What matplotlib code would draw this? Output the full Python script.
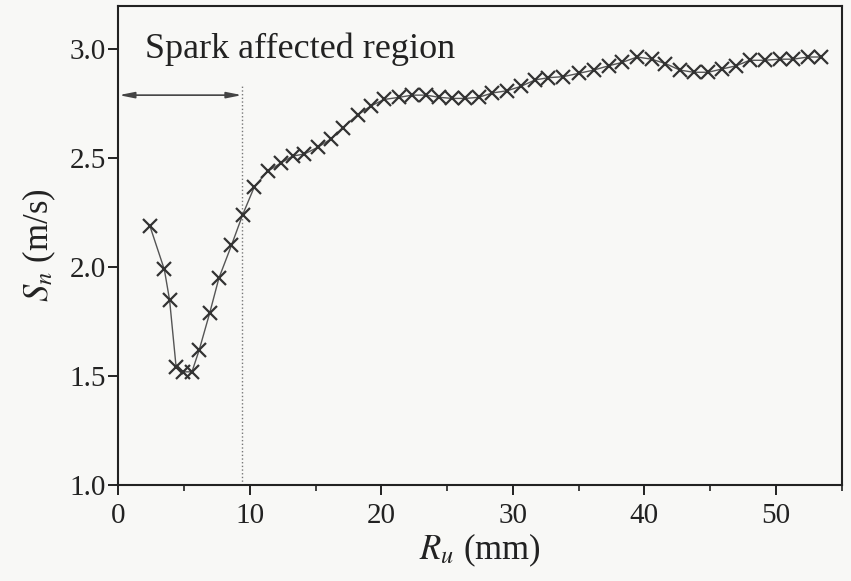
import numpy as np
import matplotlib.pyplot as plt
from matplotlib.ticker import MultipleLocator

# flame speed vs radius
R_u = [2.4, 3.5, 3.9, 4.4, 4.95, 5.6, 6.15, 6.95, 7.65, 8.6, 9.45, 10.35,
       11.35, 12.4, 13.25, 14.15, 15.15, 16.2, 17.05, 18.2, 19.2, 20.2,
       21.35, 22.35, 23.4, 24.4, 25.4, 26.4, 27.4, 28.45, 29.55, 30.6,
       31.7, 32.7, 33.85, 35.0, 36.15, 37.3, 38.3, 39.45, 40.55, 41.6,
       42.7, 43.75, 44.85, 45.9, 47.0, 48.0, 49.15, 50.3, 51.3, 52.45, 53.45]
S_n = [2.19, 1.99, 1.85, 1.54, 1.52, 1.52, 1.62, 1.79, 1.95, 2.10, 2.24, 2.37,
       2.44, 2.48, 2.51, 2.52, 2.55, 2.59, 2.64, 2.70, 2.74, 2.77,
       2.78, 2.79, 2.79, 2.78, 2.775, 2.775, 2.78, 2.80, 2.81, 2.83,
       2.86, 2.87, 2.875, 2.89, 2.905, 2.925, 2.94, 2.965, 2.955, 2.935,
       2.905, 2.895, 2.895, 2.91, 2.925, 2.95, 2.95, 2.955, 2.955, 2.965, 2.965]

SPARK_EDGE = 9.4
ARROW_Y = 2.79

plt.rcParams['font.family'] = ['Liberation Serif', 'DejaVu Serif']
plt.rcParams['mathtext.fontset'] = 'stix'

fig = plt.figure(figsize=(8.51, 5.81), dpi=100, facecolor='#f8f8f6')
ax = fig.add_axes([0.139, 0.165, 0.850, 0.825])
ax.set_facecolor('#f8f8f6')

ax.plot(R_u, S_n, '-', color='#555555', lw=1.0, zorder=2)
ax.plot(R_u, S_n, 'x', color='#333333', ms=10, mew=1.6, zorder=3)

# spark region marker
ax.plot([SPARK_EDGE, SPARK_EDGE], [1.0, 2.84], ':', color='#777777', lw=1.0)
ax.annotate('', xy=(0.05, ARROW_Y), xytext=(SPARK_EDGE, ARROW_Y),
            arrowprops=dict(arrowstyle='<|-|>,head_length=0.9,head_width=0.18',
                            color='#444444', lw=1.2, shrinkA=0, shrinkB=0))
ax.text(2.0, 3.0, 'Spark affected region', fontsize=26, color='#222222',
        va='center', ha='left')

ax.set_xlim(0, 55)
ax.set_ylim(1.0, 3.2)
ax.xaxis.set_major_locator(MultipleLocator(10))
ax.xaxis.set_minor_locator(MultipleLocator(5))
ax.yaxis.set_major_locator(MultipleLocator(0.5))
ax.yaxis.set_major_formatter(plt.FormatStrFormatter('%.1f'))

ax.tick_params(axis='both', which='major', direction='out', length=7,
               width=1.4, labelsize=21, colors='#222222', pad=2)
ax.tick_params(axis='x', which='major', pad=6)
ax.tick_params(axis='x', which='minor', direction='out', length=4.5, width=1.2,
               colors='#222222')
for s in ax.spines.values():
    s.set_linewidth(1.5)
    s.set_color('#222222')

ax.set_xlabel(r'$R_u$ (mm)', fontsize=25, color='#222222', labelpad=2)
ax.set_ylabel(r'$S_n$ (m/s)', fontsize=25, color='#222222', labelpad=8)

fig.savefig('out.png', dpi=100, facecolor=fig.get_facecolor())
